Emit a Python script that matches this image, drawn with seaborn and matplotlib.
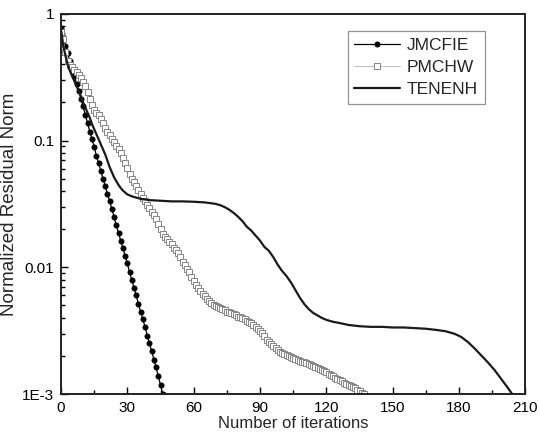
import numpy as np
import pandas as pd
import matplotlib
matplotlib.use("Agg")
import matplotlib.pyplot as plt
import seaborn as sns
from matplotlib.ticker import FixedLocator, FixedFormatter, LogLocator, NullFormatter, MultipleLocator

# ---- data (log10 of normalized residual norm) ----
jmcfie_iter = list(range(0, 47))
jmcfie_log = [-0.11, -0.18, -0.25, -0.31, -0.37, -0.43, -0.49, -0.55, -0.61, -0.67,
              -0.73, -0.80, -0.86, -0.93, -0.99, -1.05, -1.12, -1.18, -1.24, -1.30,
              -1.36, -1.42, -1.48, -1.54, -1.60, -1.67, -1.73, -1.79, -1.85, -1.91,
              -1.97, -2.04, -2.10, -2.16, -2.22, -2.29, -2.35, -2.41, -2.47, -2.54,
              -2.60, -2.66, -2.73, -2.79, -2.86, -2.93, -3.00]

pmchw_iter = list(range(0, 138))
pmchw_log = [-0.14, -0.20, -0.30, -0.37, -0.40, -0.42, -0.44, -0.46, -0.485, -0.51,
             -0.54, -0.57, -0.62, -0.67, -0.72, -0.755, -0.78, -0.80, -0.83, -0.865,
             -0.90, -0.935, -0.96, -0.99, -1.015, -1.04, -1.07, -1.10, -1.14, -1.18,
             -1.22, -1.26, -1.30, -1.33, -1.36, -1.39, -1.42, -1.45, -1.48, -1.505,
             -1.53, -1.56, -1.59, -1.62, -1.66, -1.70, -1.735, -1.76, -1.78, -1.80,
             -1.82, -1.845, -1.865, -1.885, -1.92, -1.955, -1.98, -2.01, -2.04, -2.08,
             -2.11, -2.14, -2.165, -2.19, -2.21, -2.23, -2.25, -2.265, -2.28, -2.295,
             -2.305, -2.315, -2.325, -2.33, -2.34, -2.35, -2.355, -2.36, -2.37, -2.38,
             -2.39, -2.395, -2.40, -2.41, -2.42, -2.43, -2.44, -2.455, -2.47, -2.485,
             -2.50, -2.52, -2.54, -2.57, -2.59, -2.605, -2.625, -2.64, -2.655, -2.665,
             -2.675, -2.685, -2.695, -2.70, -2.71, -2.715, -2.725, -2.73, -2.74, -2.745,
             -2.75, -2.755, -2.765, -2.77, -2.78, -2.79, -2.795, -2.80, -2.81, -2.82,
             -2.83, -2.84, -2.85, -2.86, -2.87, -2.88, -2.89, -2.90, -2.91, -2.92,
             -2.93, -2.935, -2.945, -2.955, -2.965, -2.975, -2.99, -3.00]

tenenh_iter = [0, 1, 2, 3, 4, 5, 6, 7, 8, 9, 10, 11, 12, 13, 14, 15, 16, 17, 18, 19,
               20, 21, 22, 23, 24, 25, 26, 27, 28, 29, 30, 32, 34, 36, 38, 40, 45, 50,
               55, 60, 65, 68, 70, 72, 74, 76, 78, 80, 82, 84, 86, 88, 90, 92, 94, 96,
               98, 100, 102, 104, 106, 108, 110, 112, 114, 116, 118, 120, 123, 126, 130,
               135, 140, 145, 150, 155, 160, 165, 170, 174, 178, 181, 184, 187, 190, 193,
               196, 199, 202, 204]
tenenh_log = [-0.12, -0.25, -0.33, -0.40, -0.45, -0.49, -0.53, -0.57, -0.61, -0.65,
              -0.70, -0.74, -0.78, -0.82, -0.87, -0.91, -0.95, -0.99, -1.03, -1.07,
              -1.11, -1.16, -1.21, -1.25, -1.29, -1.32, -1.35, -1.375, -1.395, -1.41,
              -1.425, -1.44, -1.45, -1.46, -1.465, -1.47, -1.475, -1.48, -1.48, -1.483,
              -1.488, -1.495, -1.50, -1.51, -1.525, -1.545, -1.57, -1.60, -1.635, -1.68,
              -1.71, -1.75, -1.79, -1.84, -1.87, -1.92, -1.98, -2.03, -2.07, -2.12,
              -2.18, -2.24, -2.29, -2.33, -2.36, -2.38, -2.40, -2.415, -2.43, -2.44,
              -2.455, -2.465, -2.47, -2.47, -2.475, -2.475, -2.48, -2.485, -2.495, -2.505,
              -2.525, -2.55, -2.59, -2.64, -2.695, -2.75, -2.81, -2.88, -2.95, -3.00]

x_ticks = [0, 30, 60, 90, 120, 150, 180, 210]
y_ticks = [1e-3, 1e-2, 1e-1, 1]
y_tick_labels = ["1E-3", "0.01", "0.1", "1"]
series_names = ["JMCFIE", "PMCHW", "TENENH"]

# ---- build frames ----
df_j = pd.DataFrame({"iter": jmcfie_iter, "res": 10 ** np.array(jmcfie_log)})
df_p = pd.DataFrame({"iter": pmchw_iter, "res": 10 ** np.array(pmchw_log)})
df_t = pd.DataFrame({"iter": tenenh_iter, "res": 10 ** np.array(tenenh_log)})

sns.set_style("ticks")
plt.rcParams["font.family"] = ["Liberation Sans", "DejaVu Sans"]

fig = plt.figure(figsize=(5.4, 4.36), dpi=100)
ax = fig.add_axes([0.113, 0.0963, 0.860, 0.872])

sns.lineplot(data=df_j, x="iter", y="res", ax=ax, color="black", lw=0.9,
             marker="o", markersize=3.8, markeredgecolor="black", markerfacecolor="black",
             markeredgewidth=0.5, label=series_names[0], estimator=None)
sns.lineplot(data=df_p, x="iter", y="res", ax=ax, color="#b5b5b5", lw=0.6,
             marker="s", markersize=4, markeredgecolor="#858585", markerfacecolor="white",
             markeredgewidth=0.7, label=series_names[1], estimator=None)
sns.lineplot(data=df_t, x="iter", y="res", ax=ax, color="#1a1a1a", lw=1.6,
             label=series_names[2], estimator=None)

ax.set_yscale("log")
ax.set_xlim(0, 210)
ax.set_ylim(1e-3, 1)
ax.xaxis.set_major_locator(FixedLocator(x_ticks))
ax.xaxis.set_minor_locator(MultipleLocator(15))
ax.yaxis.set_major_locator(FixedLocator(y_ticks))
ax.yaxis.set_major_formatter(FixedFormatter(y_tick_labels))
ax.yaxis.set_minor_locator(LogLocator(base=10, subs=np.arange(2, 10)))
ax.yaxis.set_minor_formatter(NullFormatter())

ax.tick_params(which="both", direction="in", top=False, right=False, colors="black",
               labelsize=11, pad=5)
ax.tick_params(which="major", length=5, width=1)
ax.tick_params(which="minor", length=3, width=1)
for s in ax.spines.values():
    s.set_visible(True)
    s.set_linewidth(1.4)
    s.set_color("#222222")

ax.set_xlabel("Number of iterations", fontsize=12, labelpad=1)
ax.set_ylabel("Normalized Residual Norm", fontsize=13.5, labelpad=3)

leg = ax.legend(loc="upper left", bbox_to_anchor=(0.617, 0.955), frameon=True,
                fancybox=False, edgecolor="#777777", fontsize=12.5, handlelength=2.6,
                borderpad=0.4, labelspacing=0.4, handletextpad=0.4, borderaxespad=0)
leg.get_frame().set_linewidth(0.9)

fig.savefig("out.png", dpi=100)
